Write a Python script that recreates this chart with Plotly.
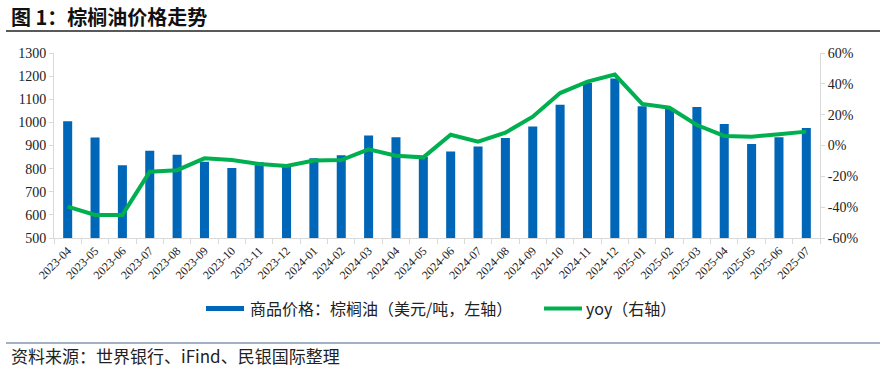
import plotly.graph_objects as go

months = ["2023-04","2023-05","2023-06","2023-07","2023-08","2023-09","2023-10","2023-11","2023-12",
          "2024-01","2024-02","2024-03","2024-04","2024-05","2024-06","2024-07","2024-08","2024-09",
          "2024-10","2024-11","2024-12","2025-01","2025-02","2025-03","2025-04","2025-05","2025-06","2025-07"]
price = [1005, 935, 815, 877, 860, 830, 803, 828, 810,
         845, 858, 943, 936, 851, 874, 896, 932, 982,
         1076, 1170, 1190, 1070, 1062, 1067, 993, 907, 936, 976]
yoy = [-39.7, -45.0, -45.0, -17.0, -16.0, -8.3, -9.4, -12.0, -13.3,
       -9.8, -9.4, -2.5, -6.6, -7.7, 7.0, 2.5, 8.3, 18.7,
       34.0, 41.4, 46.0, 27.0, 24.5, 13.3, 6.2, 5.7, 7.3, 9.0]
left_ticks = [500, 600, 700, 800, 900, 1000, 1100, 1200, 1300]
right_ticks = [-60, -40, -20, 0, 20, 40, 60]
bar_name = "商品价格：棕榈油（美元/吨，左轴）"
line_name = "yoy（右轴）"

serif = "Liberation Serif, Noto Sans CJK SC"
cjk = "Noto Sans CJK SC"

# the page's default body margin is removed (post_script), so the figure fills the window
W, H = 884, 369
L, R, T, B = 54, 64, 53, 131
PW, PH = W - L - R, H - T - B

def px(xw):  # window x -> paper x
    return (xw - L) / PW

def py(yw):  # window y -> paper y
    return 1 - (yw - T) / PH

fig = go.Figure()
fig.add_trace(go.Bar(x=months, y=price, name=bar_name,
                     marker=dict(color="#0066B8", line=dict(width=0)), width=0.33, yaxis="y"))
fig.add_trace(go.Scatter(x=months, y=yoy, name=line_name, mode="lines",
                         line=dict(color="#00B050", width=4), yaxis="y2"))

axis_common = dict(showline=True, linecolor="#D9D9D9", linewidth=1, ticks="outside",
                   tickcolor="#D9D9D9", showgrid=False, zeroline=False)
fig.update_layout(
    width=W, height=H,
    margin=dict(l=L, r=R, t=T, b=B),
    paper_bgcolor="white", plot_bgcolor="white",
    showlegend=False,
    xaxis=dict(type="category", tickangle=-45, tickfont=dict(family=serif, size=12, color="#222"),
               ticklen=5, tickson="boundaries", **axis_common),
    yaxis=dict(range=[500, 1300], tickvals=left_ticks, tickfont=dict(family=serif, size=14, color="#222"),
               ticklen=4, **axis_common),
    yaxis2=dict(range=[-60, 60], tickvals=right_ticks, ticktext=[f"{v}%" for v in right_ticks],
                overlaying="y", side="right", tickfont=dict(family=serif, size=14, color="#222"),
                ticklen=4, **axis_common),
)

# title and rules
fig.add_annotation(text="<b>图 1：棕榈油价格走势</b>", xref="paper", yref="paper", x=px(9), y=py(16),
                   xanchor="left", yanchor="middle", showarrow=False,
                   font=dict(family=cjk, size=20, color="#111"))
fig.add_shape(type="line", xref="paper", yref="paper", x0=px(6), x1=px(880), y0=py(31), y1=py(31),
              line=dict(color="#222", width=1.5))
fig.add_shape(type="line", xref="paper", yref="paper", x0=px(6), x1=px(880), y0=py(343), y1=py(343),
              line=dict(color="#8497B0", width=1.5))
fig.add_annotation(text="资料来源：世界银行、iFind、民银国际整理", xref="paper", yref="paper",
                   x=px(9), y=py(355), xanchor="left", yanchor="middle", showarrow=False,
                   font=dict(family=cjk, size=17, color="#222"))

# legend
fig.add_shape(type="rect", xref="paper", yref="paper", x0=px(206), x1=px(244), y0=py(306), y1=py(311),
              fillcolor="#0066B8", line=dict(width=0))
fig.add_annotation(text=bar_name, xref="paper", yref="paper", x=px(248), y=py(308),
                   xanchor="left", yanchor="middle", showarrow=False,
                   font=dict(family=cjk, size=16, color="#222"))
fig.add_shape(type="line", xref="paper", yref="paper", x0=px(544), x1=px(582), y0=py(308.5), y1=py(308.5),
              line=dict(color="#00B050", width=4))
fig.add_annotation(text=line_name, xref="paper", yref="paper", x=px(584), y=py(308),
                   xanchor="left", yanchor="middle", showarrow=False,
                   font=dict(family=cjk, size=16, color="#222"))

fig.write_html("out.html", config={"displayModeBar": False},
               post_script="document.body.style.margin='0';document.body.style.padding='0';")
